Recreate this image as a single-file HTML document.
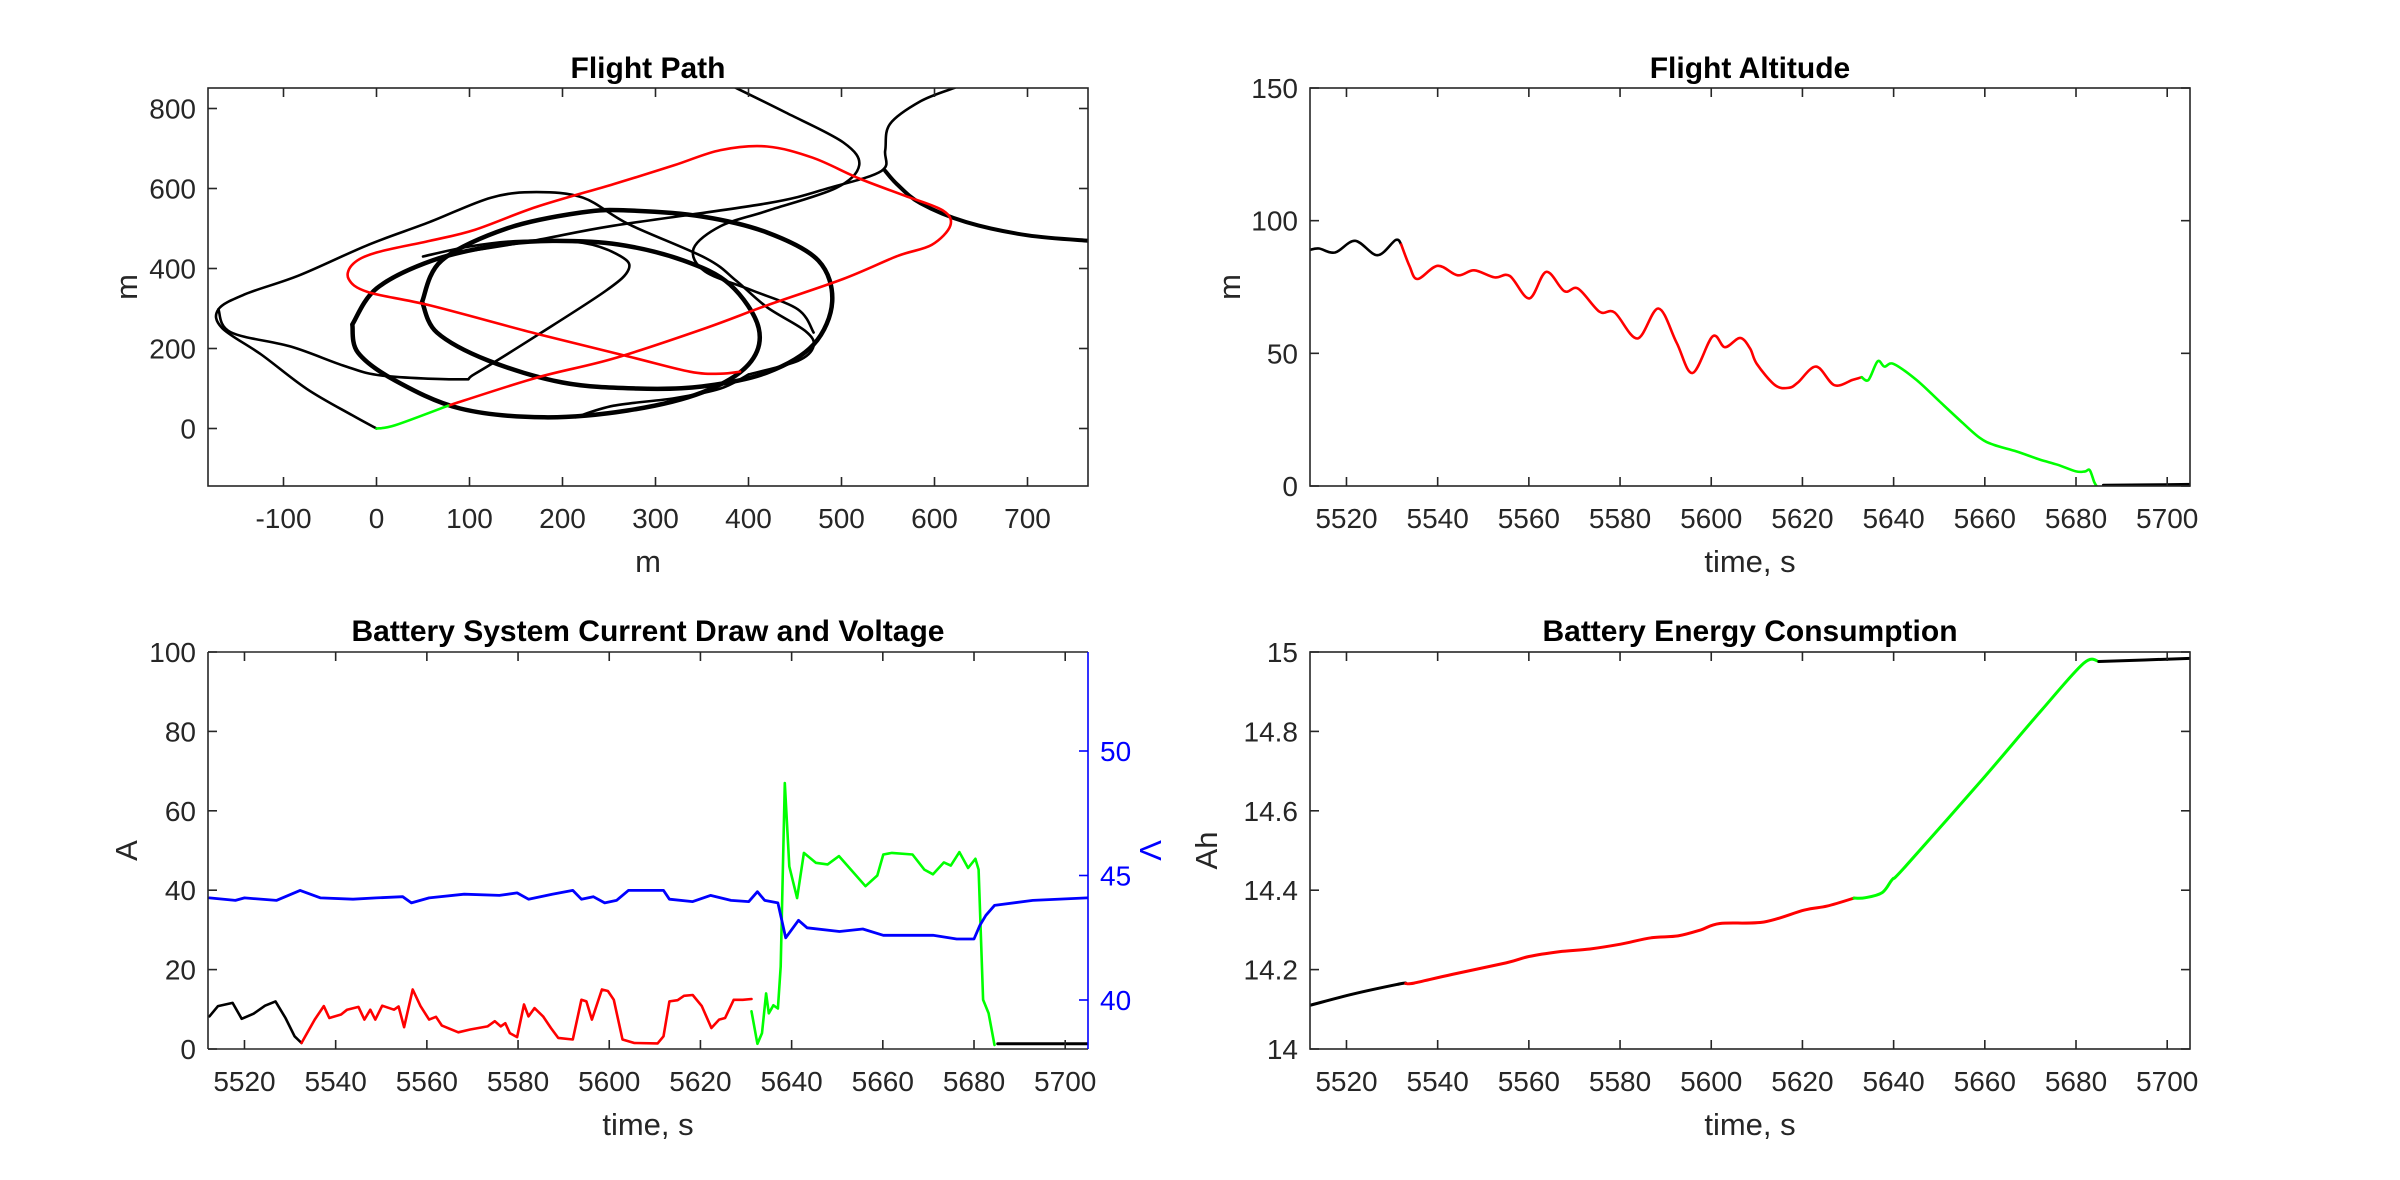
<!DOCTYPE html>
<html><head><meta charset="utf-8">
<style>
html,body{margin:0;padding:0;background:#fff;}
svg{display:block;font-family:"Liberation Sans",Arial,sans-serif;}
</style></head>
<body>
<svg id="fig" width="2400" height="1180" viewBox="0 0 2400 1180">
<rect width="2400" height="1180" fill="#fff"/>
</svg>
<script>
// ---------- Flight path data (m) ----------
const greenPathX = [0, 20, 77];
const greenPathY = [0, 8, 57];
const redPathX = [77,172,255,354,420,502,560,597,617,609,568,519,469,420,370,320,255,172,106,57,0,-25,-30,-9,57,172,271,337,370,391];
const redPathY = [57,127,175,251,308,374,431,459,507,545,582,625,677,705,696,658,611,554,497,469,440,412,374,341,308,237,180,142,137,142];
const blackA_X = [0,-26,-75,-124,-166,-170,-141,-83,-9,57,123,172,222,271,354,387,420,461,470,453,400];
const blackA_Y = [0,33,99,185,251,298,336,383,459,516,577,591,577,511,426,369,303,244,206,169,135];
const blackB_X = [-170,-157,-91,-34,7,90,106,172,247,271,263,222,156,100,50];
const blackB_Y = [298,241,204,156,132,123,137,232,345,397,430,464,469,455,430];
const loopC_X = [-26,0,60,130,189,260,330,380,411,400,350,270,180,90,20,-20,-26];
const loopC_Y = [260,350,420,458,469,460,420,360,251,160,90,45,28,50,120,190,260];
const loopD_X = [49,70,140,220,272,350,420,475,490,470,420,350,280,200,120,65,49];
const loopD_Y = [317,420,500,540,545,530,490,420,317,210,140,105,100,115,170,240,317];
const blackE_X = [386,440,502,519,494,420,370,341,353,403,453,470];
const blackE_Y = [852,790,715,658,601,544,506,450,393,346,298,240];
const blackF_X = [90,170,255,420,486,543,547,552,585,622];
const blackF_Y = [440,470,507,563,601,644,695,761,818,852];
const blackG_X = [547,560,585,634,700,768];
const blackG_Y = [644,610,563,516,483,469];
const blackH_X = [214,255,321,370,400];
const blackH_Y = [28,57,76,100,135];

// ---------- Altitude (m) ----------
const altBlack1T = [5512,5514,5517.5,5521.9,5526.8,5530.8,5532];
const altBlack1V = [89,89.5,88,92.4,87,92.7,91];
const altRedT = [5532,5533.8,5535.6,5540,5544.4,5548,5552.5,5555.8,5560.1,5563.8,5567.8,5570.8,5575.5,5578.8,5583.8,5588.4,5592.4,5595.9,5600.3,5603,5606.3,5608.5,5610,5614,5617,5619,5623,5627,5631,5633];
const altRedV = [91,83,78,83,79.4,81.3,78.6,79.2,70.7,80.7,73.4,74.4,65.7,65.4,55.6,66.9,54,42.6,56.4,52.3,55.8,51.9,46,38,37,39,45,38,40,41];
const altGreenT = [5633,5634.5,5636.5,5638,5640,5645,5650,5655,5659,5662,5667,5672,5676,5680,5682,5683,5684,5684.5];
const altGreenV = [41,40,47,45,46,40,32,24,18,15.5,13,10,8,5.5,5.5,6,1.5,0];
const altBlack2T = [5686,5695,5705];
const altBlack2V = [0.3,0.4,0.6];

// ---------- Current (A) ----------
const curBlackT = [5512.3,5514.2,5517.4,5519.4,5522,5524.5,5526.8,5529,5531,5532.5];
const curBlackV = [8.2,10.8,11.6,7.6,8.9,10.9,12,7.8,3.2,1.5];
const curRedT = [5532.5,5535.4,5537.4,5538.6,5541.2,5542.5,5545,5546.3,5547.6,5548.7,5550.2,5552.8,5553.8,5555,5556.9,5558.6,5560.5,5562,5563.3,5566.9,5569.5,5573.3,5574.9,5576.2,5577.2,5578.2,5579.8,5581.3,5582.3,5583.6,5585.5,5587.2,5588.8,5592,5593.9,5595,5596.2,5598.4,5599.7,5601,5602.9,5605.5,5610.6,5611.9,5613.2,5615,5616.4,5618.3,5620.3,5622.4,5624.1,5625.4,5627.3,5629.3,5631.2];
const curRedV = [1.5,7.4,10.8,7.8,8.7,9.9,10.6,7.4,9.9,7.4,10.9,9.9,10.7,5.5,15,10.8,7.4,8.1,5.9,4.2,4.9,5.7,7,5.7,6.5,4,3,11.2,8.2,10.3,8.2,5.3,2.8,2.4,12.4,12,7.4,15,14.6,12.4,2.4,1.5,1.4,3.2,12,12.3,13.4,13.6,10.8,5.3,7.4,7.8,12.4,12.4,12.6];
const curGreenT = [5631.2,5632.5,5633.5,5634.4,5635,5636,5637,5637.6,5638.5,5639.5,5641.2,5642.7,5645.3,5647.9,5650.4,5653,5656.2,5658.8,5660.1,5662,5666.5,5669.1,5671,5673.4,5674.9,5676.8,5678.7,5680.3,5681,5682,5683.2,5684.5];
const curGreenV = [9.5,1.3,4,14,9,11,10.2,20.8,67,46,38,49.4,46.9,46.5,48.6,45.2,41,43.7,49,49.4,49,45.2,44,47,46.2,49.6,45.6,47.9,45.2,12.4,9,1];
const curBlack2T = [5685.2,5704.8];
const curBlack2V = [1.3,1.3];
// ---------- Voltage (V) ----------
const voltT = [5512.3,5518,5520,5527,5532.2,5536.7,5543.8,5548.9,5554.7,5556.6,5560.5,5568.2,5575.9,5579.8,5582.3,5587.5,5592,5593.9,5596.5,5599,5601.6,5604.2,5611.9,5613.2,5618.3,5622.2,5626.7,5630.6,5632.5,5634.1,5637,5638.7,5641.5,5643.4,5650.5,5655.6,5660.1,5671,5676.2,5680,5681.3,5682.6,5684.5,5692.9,5704.8];
const voltV = [44.1,44.0,44.1,44.0,44.4,44.1,44.05,44.1,44.15,43.9,44.1,44.25,44.2,44.3,44.05,44.25,44.4,44.05,44.15,43.9,44.0,44.4,44.4,44.05,43.95,44.2,44.0,43.95,44.35,44.0,43.9,42.5,43.2,42.9,42.75,42.85,42.6,42.6,42.45,42.45,43.0,43.4,43.8,44.0,44.1];

// ---------- Energy (Ah) ----------
const enBlackT = [5512,5521.3,5531.7,5533];
const enBlackV = [14.11,14.138,14.164,14.165];
const enRedT = [5533,5534.8,5543.2,5555,5560,5566.6,5573.4,5580.1,5586.8,5592.7,5597.7,5601.9,5611.6,5620.4,5625.4,5631.3];
const enRedV = [14.165,14.166,14.188,14.217,14.233,14.245,14.252,14.264,14.28,14.285,14.3,14.316,14.32,14.35,14.36,14.38];
const enGreenT = [5631.3,5633.8,5637.5,5639.7,5642.2,5659,5672.4,5681.7,5685];
const enGreenV = [14.38,14.381,14.394,14.427,14.455,14.673,14.853,14.972,14.976];
const enBlack2T = [5685,5705];
const enBlack2V = [14.976,14.984];

// ---------- tick labels ----------
const pathXTicks = [-100,0,100,200,300,400,500,600,700];
const pathYTicks = [0,200,400,600,800];
const timeTicks = [5520,5540,5560,5580,5600,5620,5640,5660,5680,5700];
const altTicks = [0,50,100,150];
const curTicks = [0,20,40,60,80,100];
const voltTicks = [40,45,50];
const enTicks = [14,14.2,14.4,14.6,14.8,15];
const enTickLabels = ["14","14.2","14.4","14.6","14.8","15"];

const NS = "http://www.w3.org/2000/svg";
const svg = document.getElementById('fig');
function el(tag, attrs, parent){
  const e = document.createElementNS(NS, tag);
  for (const k in attrs) e.setAttribute(k, attrs[k]);
  (parent||svg).appendChild(e);
  return e;
}
function lin(d0,d1,p0,p1){ return v => p0 + (v-d0)/(d1-d0)*(p1-p0); }

const TXT = '#262626';
function axesBox(g, L, T, R, B, color){
  const r = el('rect',{x:L,y:T,width:R-L,height:B-T,fill:'none',stroke:color||TXT,'stroke-width':1.6},g);
  
  
}
function xTicks(g, ticks, sx, T, B, labels){
  ticks.forEach((t,i)=>{
    const x = sx(t);
    el('line',{x1:x,y1:B,x2:x,y2:B-9,stroke:TXT,'stroke-width':1.6},g);
    el('line',{x1:x,y1:T,x2:x,y2:T+9,stroke:TXT,'stroke-width':1.6},g);
    const tx = el('text',{x:x,y:B+42,'text-anchor':'middle','font-size':28,fill:TXT},g);
    tx.textContent = labels ? labels[i] : String(t);
    
    
  });
}
function yTicks(g, ticks, sy, L, R, labels, both){
  ticks.forEach((t,i)=>{
    const y = sy(t);
    el('line',{x1:L,y1:y,x2:L+9,y2:y,stroke:TXT,'stroke-width':1.6},g);
    if (both) el('line',{x1:R,y1:y,x2:R-9,y2:y,stroke:TXT,'stroke-width':1.6},g);
    const tx = el('text',{x:L-12,y:y+10,'text-anchor':'end','font-size':28,fill:TXT},g);
    tx.textContent = labels ? labels[i] : String(t);
    
    
  });
}
function smoothPath(xs, ys, sx, sy){
  const p = xs.map((x,i)=>[sx(x), sy(ys[i])]);
  let d = 'M'+p[0][0].toFixed(1)+','+p[0][1].toFixed(1);
  for (let i=0;i<p.length-1;i++){
    const p0 = p[i-1]||p[i], p1=p[i], p2=p[i+1], p3=p[i+2]||p[i+1];
    const c1 = [p1[0]+(p2[0]-p0[0])/6, p1[1]+(p2[1]-p0[1])/6];
    const c2 = [p2[0]-(p3[0]-p1[0])/6, p2[1]-(p3[1]-p1[1])/6];
    d += 'C'+c1[0].toFixed(1)+','+c1[1].toFixed(1)+' '+c2[0].toFixed(1)+','+c2[1].toFixed(1)+' '+p2[0].toFixed(1)+','+p2[1].toFixed(1);
  }
  return d;
}
function polyPath(xs, ys, sx, sy){
  return xs.map((x,i)=>(i?'L':'M')+sx(x).toFixed(1)+','+sy(ys[i]).toFixed(1)).join('');
}
function series(g, d, color, w, name){
  const p = el('path',{d:d,fill:'none',stroke:color,'stroke-width':w,'stroke-linejoin':'round','stroke-linecap':'round'},g);
  
  
}
function title(g, x, y, s){
  const t = el('text',{x:x,y:y,'text-anchor':'middle','font-size':30,'font-weight':'bold',fill:'#000'},g);
  t.textContent = s;
  
  
}
function xlabel(g, x, y, s){
  const t = el('text',{x:x,y:y,'text-anchor':'middle','font-size':31,fill:TXT},g);
  t.textContent = s;
  
  
}
function ylabel(g, x, y, s, color){
  const t = el('text',{x:x,y:y,'text-anchor':'middle','font-size':31,fill:color||TXT,transform:'rotate(-90 '+x+' '+y+')'},g);
  t.textContent = s;
  
  
}
function clip(id, L,T,R,B){
  const c = el('clipPath',{id:id});
  el('rect',{x:L,y:T,width:R-L,height:B-T},c);
}

// ===== Panel 1: Flight Path =====
(function(){
  const L=208,T=88,R=1088,B=486;
  const sx = lin(0,100,376.5,469.5);
  const sy = lin(0,800,428.5,108.5);
  const g = el('g',{});
  
  
  clip('c1',L,T,R,B);
  const d = el('g',{'clip-path':'url(#c1)'},g);
  series(d, smoothPath(loopC_X,loopC_Y,sx,sy),'#000',4.5,'path-loop-c');
  series(d, smoothPath(loopD_X,loopD_Y,sx,sy),'#000',4.5,'path-loop-d');
  series(d, smoothPath(blackA_X,blackA_Y,sx,sy),'#000',2.6,'path-segment-a');
  series(d, smoothPath(blackB_X,blackB_Y,sx,sy),'#000',2.6,'path-segment-b');
  series(d, smoothPath(blackE_X,blackE_Y,sx,sy),'#000',2.6,'path-segment-e');
  series(d, smoothPath(blackF_X,blackF_Y,sx,sy),'#000',2.6,'path-segment-f');
  series(d, smoothPath(blackG_X,blackG_Y,sx,sy),'#000',4,'path-segment-g');
  series(d, smoothPath(blackH_X,blackH_Y,sx,sy),'#000',2.6,'path-segment-h');
  series(d, smoothPath(redPathX,redPathY,sx,sy),'#ff0000',2.6,'path-red');
  series(d, smoothPath(greenPathX,greenPathY,sx,sy),'#00ff00',2.6,'path-green');
  axesBox(g,L,T,R,B);
  xTicks(g,pathXTicks,sx,T,B);
  yTicks(g,pathYTicks,sy,L,R,null,true);
  title(g,(L+R)/2,78,'Flight Path');
  xlabel(g,(L+R)/2,572,'m');
  ylabel(g,137,(T+B)/2,'m');
})();

// ===== Panel 2: Flight Altitude =====
(function(){
  const L=1310,T=88,R=2190,B=486;
  const sx = lin(5512,5705,L,R);
  const sy = lin(0,150,B,T);
  const g = el('g',{});
  
  
  clip('c2',L,T,R,B);
  const d = el('g',{'clip-path':'url(#c2)'},g);
  series(d, smoothPath(altBlack1T,altBlack1V,sx,sy),'#000',2.6,'altitude-black-start');
  series(d, smoothPath(altRedT,altRedV,sx,sy),'#ff0000',2.6,'altitude-red');
  series(d, smoothPath(altGreenT,altGreenV,sx,sy),'#00ff00',2.6,'altitude-green');
  series(d, smoothPath(altBlack2T,altBlack2V,sx,sy),'#000',3,'altitude-black-end');
  axesBox(g,L,T,R,B);
  xTicks(g,timeTicks,sx,T,B);
  yTicks(g,altTicks,sy,L,R,null,true);
  title(g,(L+R)/2,78,'Flight Altitude');
  xlabel(g,(L+R)/2,572,'time, s');
  ylabel(g,1240,(T+B)/2,'m');
})();

// ===== Panel 3: Current & Voltage =====
(function(){
  const L=208,T=652,R=1088,B=1049;
  const sx = lin(5512,5705,L,R);
  const sy = lin(0,100,B,T);
  const sv = lin(40,50,1000,751);
  const g = el('g',{});
  
  
  clip('c3',L,T,R,B);
  const d = el('g',{'clip-path':'url(#c3)'},g);
  series(d, polyPath(curBlackT,curBlackV,sx,sy),'#000',2.6,'current-black-start');
  series(d, polyPath(curRedT,curRedV,sx,sy),'#ff0000',2.6,'current-red');
  series(d, polyPath(curGreenT,curGreenV,sx,sy),'#00ff00',2.6,'current-green');
  series(d, polyPath(curBlack2T,curBlack2V,sx,sy),'#000',3,'current-black-end');
  series(d, polyPath(voltT,voltV,sx,sv),'#0000ff',2.8,'voltage-line');
  // box: top, bottom, left dark; right blue
  el('line',{x1:L,y1:T,x2:R,y2:T,stroke:TXT,'stroke-width':1.6},g);
  el('line',{x1:L,y1:B,x2:R,y2:B,stroke:TXT,'stroke-width':1.6},g);
  el('line',{x1:L,y1:T,x2:L,y2:B,stroke:TXT,'stroke-width':1.6},g);
  el('line',{x1:R,y1:T,x2:R,y2:B,stroke:'#0000ff','stroke-width':1.6},g);
  xTicks(g,timeTicks,sx,T,B);
  yTicks(g,curTicks,sy,L,R,null,false);
  voltTicks.forEach(v=>{
    const y = sv(v);
    el('line',{x1:R,y1:y,x2:R-9,y2:y,stroke:'#0000ff','stroke-width':1.6},g);
    const t = el('text',{x:R+12,y:y+10,'font-size':28,fill:'#0000ff'},g);
    t.textContent = String(v);
    
    
  });
  title(g,(L+R)/2,641,'Battery System Current Draw and Voltage');
  xlabel(g,(L+R)/2,1135,'time, s');
  ylabel(g,137,(T+B)/2,'A');
  const vl = el('text',{x:1140,y:(T+B)/2,'text-anchor':'middle','font-size':31,fill:'#0000ff',transform:'rotate(90 1140 '+((T+B)/2)+')'},g);
  vl.textContent='V';
  
  
})();

// ===== Panel 4: Energy =====
(function(){
  const L=1310,T=652,R=2190,B=1049;
  const sx = lin(5512,5705,L,R);
  const sy = lin(14,15,B,T);
  const g = el('g',{});
  
  
  clip('c4',L,T,R,B);
  const d = el('g',{'clip-path':'url(#c4)'},g);
  series(d, smoothPath(enBlackT,enBlackV,sx,sy),'#000',3,'energy-black-start');
  series(d, smoothPath(enRedT,enRedV,sx,sy),'#ff0000',3,'energy-red');
  series(d, smoothPath(enGreenT,enGreenV,sx,sy),'#00ff00',3,'energy-green');
  series(d, smoothPath(enBlack2T,enBlack2V,sx,sy),'#000',3,'energy-black-end');
  axesBox(g,L,T,R,B);
  xTicks(g,timeTicks,sx,T,B);
  yTicks(g,enTicks,sy,L,R,enTickLabels,true);
  title(g,(L+R)/2,641,'Battery Energy Consumption');
  xlabel(g,(L+R)/2,1135,'time, s');
  ylabel(g,1217,(T+B)/2,'Ah');
})();
</script>
</body></html>
